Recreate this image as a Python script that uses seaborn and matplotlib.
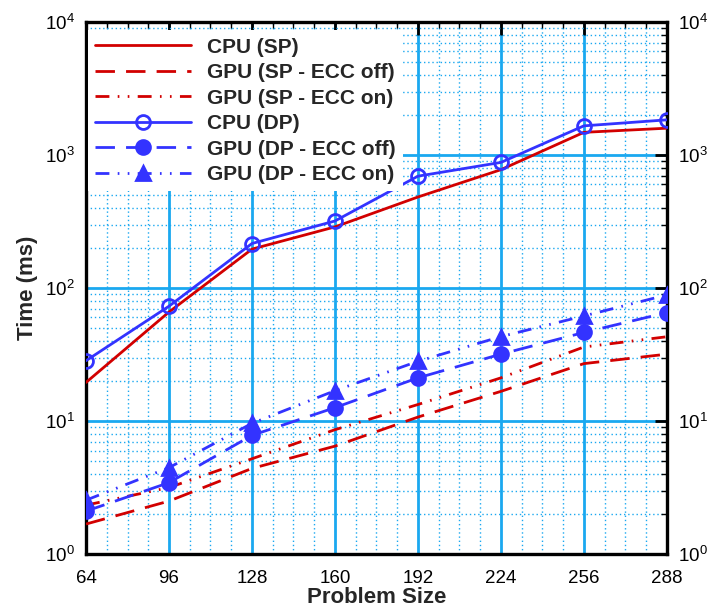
import matplotlib
matplotlib.use("Agg")
import matplotlib.pyplot as plt
import matplotlib.ticker as mticker
import numpy as np
import pandas as pd
import seaborn as sns

# Problem sizes and measured run times (ms)
sizes = [64, 96, 128, 160, 192, 224, 256, 288]
cpu_sp = [19.5, 66, 196, 288, 483, 775, 1480, 1590]
gpu_sp_ecc_off = [1.68, 2.5, 4.4, 6.47, 10.7, 16.7, 27.0, 31.8]
gpu_sp_ecc_on = [2.33, 3.16, 5.2, 8.6, 13.3, 21.1, 36.0, 43.0]
cpu_dp = [28.4, 73, 216, 319, 693, 879, 1656, 1837]
gpu_dp_ecc_off = [2.1, 3.44, 7.8, 12.6, 21.1, 31.8, 46.3, 65.3]
gpu_dp_ecc_on = [2.54, 4.46, 9.6, 16.9, 28.1, 43.1, 61.6, 88.7]

series_labels = ["CPU (SP)", "GPU (SP - ECC off)", "GPU (SP - ECC on)",
                 "CPU (DP)", "GPU (DP - ECC off)", "GPU (DP - ECC on)"]
x_ticks = [64, 96, 128, 160, 192, 224, 256, 288]

sns.set_style("white")
plt.rcParams["font.family"] = ["Liberation Sans", "DejaVu Sans"]
plt.rcParams["mathtext.fontset"] = "custom"
plt.rcParams["mathtext.rm"] = "Liberation Sans"
plt.rcParams["mathtext.it"] = "Liberation Sans:italic"
plt.rcParams["mathtext.bf"] = "Liberation Sans:bold"

RED = "#d20000"
BLUE = "#3333ff"
GRID = "#1aa8f0"

fig = plt.figure(figsize=(7.17, 6.07), dpi=100)
ax = fig.add_axes([0.120, 0.0873, 0.810, 0.8765])

series = [
    (cpu_sp, RED, "-", None, None),
    (gpu_sp_ecc_off, RED, (0, (7, 4)), None, None),
    (gpu_sp_ecc_on, RED, (0, (5, 3, 0.6, 3, 0.6, 3)), None, None),
    (cpu_dp, BLUE, "-", "o", "none"),
    (gpu_dp_ecc_off, BLUE, (0, (7, 4)), "o", BLUE),
    (gpu_dp_ecc_on, BLUE, (0, (5, 3, 0.6, 3, 0.6, 3)), "^", BLUE),
]

for (vals, color, ls, marker, mfc), label in zip(series, series_labels):
    df = pd.DataFrame({"size": sizes, "time": vals})
    kws = dict(color=color, linestyle=ls, linewidth=2.0, label=label)
    if marker is not None:
        kws.update(marker=marker, markersize=10, markerfacecolor=mfc,
                   markeredgecolor=color, markeredgewidth=2.0)
    sns.lineplot(data=df, x="size", y="time", ax=ax, zorder=3, **kws)

ax.set_yscale("log")
ax.set_ylim(1, 1e4)
ax.set_xlim(64, 288)
ax.xaxis.set_major_locator(mticker.FixedLocator(x_ticks))
ax.xaxis.set_minor_locator(mticker.MultipleLocator(8))
ax.xaxis.set_major_formatter(mticker.FormatStrFormatter("%d"))
ax.yaxis.set_major_locator(mticker.LogLocator(base=10, numticks=10))
ax.yaxis.set_minor_locator(mticker.LogLocator(base=10, subs=np.arange(2, 10), numticks=20))
ax.yaxis.set_minor_formatter(mticker.NullFormatter())

ax.grid(which="major", color=GRID, linewidth=2.0, linestyle="-", zorder=0)
ax.grid(which="minor", color=GRID, linewidth=1.0, linestyle=(0, (1, 2)), zorder=0)
ax.set_axisbelow(True)

for s in ax.spines.values():
    s.set_linewidth(2.4)
    s.set_color("black")
    s.set_visible(True)

ax.tick_params(which="both", direction="in", top=True, right=True,
               labelright=True, colors="black")
ax.tick_params(which="major", length=9, width=2.0, labelsize=13.5, pad=8)
ax.tick_params(axis="x", which="major", pad=11.5)
ax.tick_params(which="minor", length=4.5, width=1.0)

ax.set_xlabel("Problem Size", fontsize=16, fontweight="bold", labelpad=0)
ax.set_ylabel("Time (ms)", fontsize=16, fontweight="bold", labelpad=5)

leg = ax.legend(loc="upper left", bbox_to_anchor=(0.0, 0.988), borderaxespad=0.1,
                borderpad=0.35, frameon=True, fancybox=False, framealpha=1.0,
                facecolor="white", edgecolor="none", handlelength=4.6,
                handletextpad=0.75, labelspacing=0.31, numpoints=1,
                prop={"weight": "bold", "size": 15})
leg.set_zorder(5)

fig.savefig("out.png", dpi=100)
